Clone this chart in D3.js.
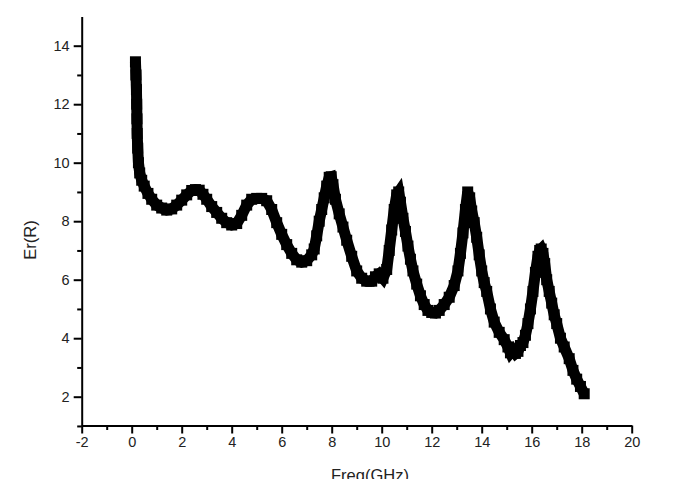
<!DOCTYPE html>
<html>
<head>
<meta charset="utf-8">
<script src="https://cdn.jsdelivr.net/npm/d3@7"></script>
<style>
  html, body { margin: 0; padding: 0; background: #fff; }
  svg { display: block; }
  text { font-family: "Liberation Sans", Arial, sans-serif; fill: #222; }
</style>
</head>
<body>
<svg id="chart" width="677" height="479"></svg>
<script>
// ---- data ----
const freq = [
  0.15, 0.17, 0.19, 0.20, 0.21, 0.22, 0.24, 0.27, 0.32, 0.40,
  0.50, 0.65, 0.80, 1.00, 1.20, 1.40, 1.60, 1.80, 2.00, 2.20,
  2.40, 2.55, 2.70, 2.85, 3.00, 3.20, 3.40, 3.60, 3.80, 4.00,
  4.20, 4.40, 4.60, 4.80, 5.00, 5.20, 5.40, 5.60, 5.80, 6.00,
  6.20, 6.40, 6.60, 6.80, 7.00, 7.20, 7.30, 7.40, 7.50, 7.60,
  7.70, 7.80, 7.90, 7.98, 8.05, 8.15, 8.30, 8.45, 8.60, 8.80,
  9.00, 9.20, 9.40, 9.60, 9.75, 9.90, 10.05, 10.20, 10.30, 10.40,
  10.50, 10.60, 10.68, 10.75, 10.85, 10.95, 11.05, 11.15, 11.25, 11.40,
  11.55, 11.70, 11.85, 12.00, 12.15, 12.30, 12.50, 12.70, 12.90, 13.05,
  13.15, 13.25, 13.35, 13.44, 13.52, 13.60, 13.70, 13.80, 13.90, 14.00,
  14.10, 14.20, 14.35, 14.50, 14.70, 14.90, 15.05, 15.15, 15.25, 15.35,
  15.45, 15.55, 15.65, 15.75, 15.85, 15.95, 16.05, 16.15, 16.25, 16.32,
  16.38, 16.45, 16.52, 16.60, 16.70, 16.80, 16.90, 17.00, 17.15, 17.30,
  17.50, 17.65, 17.80, 17.95, 18.10
];
const er = [
  13.45, 13.00, 12.50, 12.00, 11.50, 11.00, 10.50, 10.00, 9.65, 9.40,
  9.20, 8.95, 8.75, 8.55, 8.45, 8.38, 8.42, 8.55, 8.72, 8.90,
  9.05, 9.08, 9.06, 8.92, 8.75, 8.50, 8.30, 8.10, 7.95, 7.87,
  7.92, 8.20, 8.55, 8.75, 8.78, 8.78, 8.70, 8.40, 7.95, 7.55,
  7.20, 6.90, 6.68, 6.60, 6.65, 6.85, 7.05, 7.50, 8.00, 8.40,
  8.80, 9.20, 9.50, 9.52, 9.25, 8.75, 8.25, 7.80, 7.35, 6.80,
  6.30, 6.05, 5.95, 5.95, 6.10, 6.20, 6.05, 6.35, 7.00, 7.70,
  8.40, 8.90, 9.00, 8.65, 8.10, 7.65, 7.15, 6.70, 6.30, 5.85,
  5.45, 5.15, 4.95, 4.88, 4.86, 4.95, 5.15, 5.40, 5.80, 6.30,
  6.90, 7.60, 8.40, 9.00, 8.80, 8.35, 7.95, 7.45, 6.85, 6.30,
  5.90, 5.60, 5.00, 4.55, 4.20, 3.95, 3.70, 3.50, 3.60, 3.48,
  3.55, 3.75, 3.85, 4.10, 4.50, 5.00, 5.60, 6.25, 6.80, 7.00,
  7.05, 6.90, 6.55, 6.00, 5.60, 5.20, 4.80, 4.50, 4.00, 3.70,
  3.30, 2.90, 2.60, 2.35, 2.10
];
const xTicks = [-2, 0, 2, 4, 6, 8, 10, 12, 14, 16, 18, 20];
const xMinor = [-1, 1, 3, 5, 7, 9, 11, 13, 15, 17, 19];
const yTicks = [2, 4, 6, 8, 10, 12, 14];
const yMinor = [1, 3, 5, 7, 9, 11, 13];
const xTitle = "Freq(GHz)";
const yTitle = "Er(R)";

// ---- drawing ----
const svg = d3.select("#chart");
const x = d3.scaleLinear().domain([-2, 20]).range([81.7, 631.7]);
const y = d3.scaleLinear().domain([1, 15]).range([425.95, 16.45]);

const data = freq.map((f, i) => ({ f, v: er[i] }));

// thick connecting trace
svg.append("path")
  .datum(data)
  .attr("fill", "none")
  .attr("stroke", "#000")
  .attr("stroke-width", 11)
  .attr("stroke-linejoin", "miter")
  .attr("d", d3.line().x(d => x(d.f)).y(d => y(d.v)));

// square markers
const s = 11;
svg.append("g").selectAll("rect")
  .data(data)
  .join("rect")
  .attr("x", d => x(d.f) - s / 2)
  .attr("y", d => y(d.v) - s / 2)
  .attr("width", s)
  .attr("height", s)
  .attr("fill", "#000");

// axes
const fmt = d => String(d);
const xAxis = d3.axisBottom(x).tickValues(xTicks).tickSize(8).tickSizeOuter(0).tickPadding(3)
  .tickFormat(fmt);
const gx = svg.append("g").attr("transform", "translate(0,425.5)").call(xAxis);
gx.selectAll("text").style("font-size", "14.5px").attr("fill", "#222");
gx.selectAll("line, path").attr("stroke", "#000").attr("stroke-width", 2);

const xMinorAxis = d3.axisBottom(x).tickValues(xMinor).tickSize(4.5).tickSizeOuter(0).tickFormat("");
const gxm = svg.append("g").attr("transform", "translate(0,425.5)").call(xMinorAxis);
gxm.select(".domain").remove();
gxm.selectAll("line").attr("stroke", "#000").attr("stroke-width", 2);

const yAxis = d3.axisLeft(y).tickValues(yTicks).tickSize(8).tickSizeOuter(0).tickPadding(4)
  .tickFormat(fmt);
const gy = svg.append("g").attr("transform", "translate(81.7,0)").call(yAxis);
gy.selectAll("text").style("font-size", "14.5px").attr("fill", "#222");
gy.selectAll("line, path").attr("stroke", "#000").attr("stroke-width", 2);

const yMinorAxis = d3.axisLeft(y).tickValues(yMinor).tickSize(4.5).tickSizeOuter(0).tickFormat("");
const gym = svg.append("g").attr("transform", "translate(81.7,0)").call(yMinorAxis);
gym.select(".domain").remove();
gym.selectAll("line").attr("stroke", "#000").attr("stroke-width", 2);

// titles
svg.append("text")
  .attr("x", 370).attr("y", 481)
  .attr("text-anchor", "middle")
  .style("font-size", "16.5px")
  .text(xTitle);

svg.append("text")
  .attr("transform", "translate(36,240) rotate(-90)")
  .attr("text-anchor", "middle")
  .style("font-size", "16.5px")
  .text(yTitle);
</script>
</body>
</html>
